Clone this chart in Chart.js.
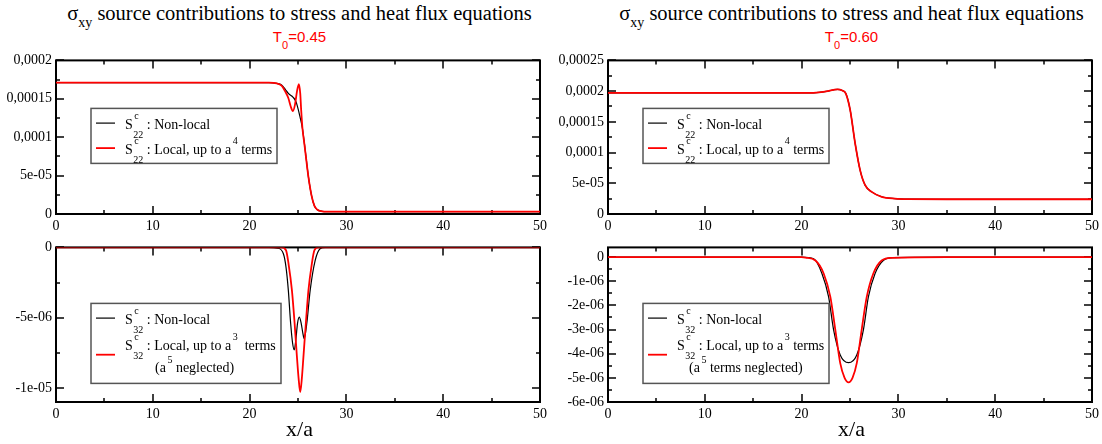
<!DOCTYPE html>
<html>
<head>
<meta charset="utf-8">
<script src="https://cdn.jsdelivr.net/npm/chart.js@4/dist/chart.umd.min.js"></script>
<style>
  html, body { margin: 0; padding: 0; background: #fff; }
  body { width: 1102px; height: 444px; position: relative; overflow: hidden; font-family: "Liberation Serif", "Times New Roman", serif; }
  canvas { position: absolute; }
  .title { position: absolute; top: 3px; width: 600px; text-align: center; font-size: 20.5px; line-height: 20px; white-space: nowrap; color: #000; }
  .title .sub { font-size: 14px; position: relative; top: 7px; }
  .subtitle { position: absolute; top: 29px; width: 200px; text-align: center; font-family: "Liberation Sans", Arial, sans-serif; font-size: 15px; line-height: 15px; color: #f00; }
  .subtitle .sub { font-size: 11px; position: relative; top: 7px; }
  .xlabel { position: absolute; top: 418px; width: 100px; text-align: center; font-size: 22px; line-height: 22px; color: #000; }
</style>
</head>
<body>
<div class="title" style="left:-0.5px">σ<span class="sub">xy</span> source contributions to stress and heat flux equations</div>
<div class="subtitle" style="left:199.5px">T<span class="sub">0</span>=0.45</div>
<div class="title" style="left:551.5px">σ<span class="sub">xy</span> source contributions to stress and heat flux equations</div>
<div class="subtitle" style="left:751.5px">T<span class="sub">0</span>=0.60</div>

<canvas id="s22a"></canvas>
<canvas id="s32a"></canvas>
<canvas id="s22b"></canvas>
<canvas id="s32b"></canvas>

<div class="xlabel" style="left:249.5px">x/a</div>
<div class="xlabel" style="left:801.5px">x/a</div>

<script>
// x axis, shared by all four panels
const xTicks = [0, 10, 20, 30, 40, 50];
const xTickLabels = ['0', '10', '20', '30', '40', '50'];

// T0 = 0.45, S22
const t045S22NonlocalX = [0, 10, 20, 22, 22.8, 23.3, 23.7, 24.0, 24.5, 24.8, 25.2, 25.45, 25.67, 25.85, 26.08, 26.4, 26.7, 27.0, 27.5, 28, 30, 40, 50];
const t045S22NonlocalY = [1.71e-4, 1.71e-4, 1.71e-4, 1.71e-4, 1.70e-4, 1.68e-4, 1.62e-4, 1.57e-4, 1.52e-4, 1.46e-4, 1.27e-4, 1.12e-4, 9.1e-5, 7.2e-5, 4.8e-5, 2.4e-5, 1.05e-5, 5.5e-6, 3.5e-6, 3.1e-6, 3e-6, 3e-6, 3e-6];
const t045S22LocalX = [0, 10, 20, 22, 22.8, 23.3, 23.7, 24.0, 24.25, 24.47, 24.7, 24.9, 25.09, 25.23, 25.33, 25.45, 25.67, 25.85, 26.08, 26.4, 26.7, 27.0, 27.5, 28, 30, 40, 50];
const t045S22LocalY = [1.71e-4, 1.71e-4, 1.71e-4, 1.71e-4, 1.70e-4, 1.67e-4, 1.59e-4, 1.51e-4, 1.40e-4, 1.34e-4, 1.43e-4, 1.60e-4, 1.69e-4, 1.57e-4, 1.35e-4, 1.13e-4, 9.0e-5, 7.1e-5, 4.8e-5, 2.4e-5, 1.05e-5, 5.5e-6, 3.5e-6, 3.1e-6, 3e-6, 3e-6, 3e-6];
const t045S22Ticks = [0, 5e-5, 1e-4, 1.5e-4, 2e-4];
const t045S22TickLabels = ['0', '5e-05', '0,0001', '0,00015', '0,0002'];

// T0 = 0.45, S32
const t045S32NonlocalX = [0, 10, 20, 22, 22.9, 23.5, 23.76, 24.0, 24.24, 24.44, 24.61, 24.78, 24.95, 25.13, 25.33, 25.5, 25.64, 25.91, 26.26, 26.77, 27.28, 27.8, 30, 40, 50];
const t045S32NonlocalY = [0, 0, 0, 0, -0.05e-6, -0.47e-6, -1.4e-6, -3.04e-6, -5.4e-6, -6.8e-6, -7.3e-6, -6.56e-6, -5.4e-6, -4.96e-6, -5.4e-6, -6.1e-6, -6.5e-6, -5.4e-6, -3.04e-6, -0.94e-6, -0.1e-6, 0, 0, 0, 0];
const t045S32LocalX = [0, 10, 20, 23.3, 23.76, 24.03, 24.37, 24.65, 24.88, 25.06, 25.23, 25.4, 25.57, 25.81, 26.08, 26.42, 26.7, 27.1, 30, 40, 50];
const t045S32LocalY = [0, 0, 0, 0, -0.2e-6, -1.2e-6, -3.04e-6, -5.4e-6, -7.7e-6, -9.3e-6, -1.03e-5, -9.3e-6, -7.7e-6, -5.4e-6, -3.04e-6, -1.2e-6, -0.2e-6, 0, 0, 0, 0];
const t045S32Ticks = [-1e-5, -5e-6, 0];
const t045S32TickLabels = ['-1e-05', '-5e-06', '0'];

// T0 = 0.60, S22 (both curves lie on top of each other)
const t060S22X = [0, 10, 20, 20.74, 21.8, 22.7, 23.3, 23.72, 24.2, 24.57, 25.02, 25.53, 26.05, 26.56, 27.24, 28.27, 29.64, 31, 35, 40, 50];
const t060S22NonlocalY = [1.97e-4, 1.97e-4, 1.97e-4, 1.97e-4, 1.98e-4, 2.0e-4, 2.02e-4, 2.03e-4, 2.01e-4, 1.96e-4, 1.69e-4, 1.15e-4, 7.1e-5, 4.7e-5, 3.6e-5, 2.8e-5, 2.5e-5, 2.42e-5, 2.4e-5, 2.4e-5, 2.4e-5];
const t060S22LocalY = [1.97e-4, 1.97e-4, 1.97e-4, 1.97e-4, 1.98e-4, 2.0e-4, 2.02e-4, 2.03e-4, 2.01e-4, 1.96e-4, 1.69e-4, 1.15e-4, 7.1e-5, 4.7e-5, 3.6e-5, 2.8e-5, 2.5e-5, 2.42e-5, 2.4e-5, 2.4e-5, 2.4e-5];
const t060S22Ticks = [0, 5e-5, 1e-4, 1.5e-4, 2e-4, 2.5e-4];
const t060S22TickLabels = ['0', '5e-05', '0,0001', '0,00015', '0,0002', '0,00025'];

// T0 = 0.60, S32
const t060S32NonlocalX = [0, 10, 20, 21.25, 22.1, 22.79, 23.3, 23.99, 24.85, 25.7, 26.39, 26.9, 27.59, 28.44, 29.47, 35, 40, 50];
const t060S32NonlocalY = [0, 0, 0, -0.07e-6, -0.68e-6, -1.65e-6, -3.0e-6, -4.05e-6, -4.37e-6, -4.05e-6, -3.0e-6, -1.65e-6, -0.68e-6, -0.14e-6, -0.02e-6, 0, 0, 0];
const t060S32LocalX = [0, 10, 20, 20.4, 21.43, 22.28, 22.97, 23.48, 23.99, 24.44, 24.85, 25.26, 25.7, 26.21, 26.73, 27.41, 28.27, 29.3, 35, 40, 50];
const t060S32LocalY = [0, 0, 0, -0.02e-6, -0.14e-6, -0.68e-6, -1.65e-6, -3.0e-6, -4.39e-6, -5.0e-6, -5.19e-6, -5.0e-6, -4.39e-6, -3.0e-6, -1.65e-6, -0.68e-6, -0.14e-6, -0.03e-6, 0, 0, 0];
const t060S32Ticks = [-6e-6, -5e-6, -4e-6, -3e-6, -2e-6, -1e-6, 0];
const t060S32TickLabels = ['-6e-06', '-5e-06', '-4e-06', '-3e-06', '-2e-06', '-1e-06', '0'];

// legend texts: plain runs, or stacked super/subscripts
const labelS22Nonlocal = [{ t: 'S' }, { sup: 'c', sub: '22' }, { t: ' : Non-local' }];
const labelS22Local = [{ t: 'S' }, { sup: 'c', sub: '22' }, { t: ' : Local, up to a' }, { sup: '4' }, { t: ' terms' }];
const labelS32Nonlocal = [{ t: 'S' }, { sup: 'c', sub: '32' }, { t: ' : Non-local' }];
const labelS32Local045 = [{ t: 'S' }, { sup: 'c', sub: '32' }, { t: ' : Local, up to a' }, { sup: '3' }, { t: '  terms' }];
const labelS32Note045 = [{ t: '(a' }, { sup: '5' }, { t: ' neglected)' }];
const labelS32Local060 = [{ t: 'S' }, { sup: 'c', sub: '32' }, { t: ' : Local, up to a' }, { sup: '3' }, { t: ' terms' }];
const labelS32Note060 = [{ t: '(a' }, { sup: '5' }, { t: ' terms neglected)' }];

const SERIF = '"Liberation Serif", "Times New Roman", serif';
const PAD_L = 56, PAD_R = 8, PAD_T = 12, PAD_B = 24;

function pts(xs, ys) {
    return xs.map((x, i) => ({ x: x, y: ys[i] }));
}

function drawRich(ctx, segs, x, y) {
    let cx = x;
    ctx.textBaseline = 'alphabetic';
    ctx.textAlign = 'left';
    ctx.fillStyle = '#000';
    segs.forEach(s => {
        if (s.t !== undefined) {
            ctx.font = '14px ' + SERIF;
            ctx.fillText(s.t, cx, y);
            cx += ctx.measureText(s.t).width;
        } else {
            ctx.font = '10px ' + SERIF;
            let w = 0;
            if (s.sup) {
                ctx.fillText(s.sup, cx + 1.5, y - 9.5);
                w = Math.max(w, ctx.measureText(s.sup).width + 1.5);
            }
            if (s.sub) {
                ctx.fillText(s.sub, cx + 0.5, y + 9);
                w = Math.max(w, ctx.measureText(s.sub).width + 0.5);
            }
            cx += w;
        }
    });
}

// closed frame with inward major/minor ticks on all four sides
const frameTicks = {
    id: 'frameTicks',
    beforeDatasetsDraw(chart) {
        const { ctx, chartArea: a, scales: { x, y } } = chart;
        const seg = (x1, y1, x2, y2) => {
            ctx.beginPath();
            ctx.moveTo(x1, y1);
            ctx.lineTo(x2, y2);
            ctx.stroke();
        };
        const minors = (vals, lo, hi) => {
            const out = [];
            const step = vals[1] - vals[0];
            for (let i = -1; i < vals.length; i++) {
                const v = vals[0] + (i + 0.5) * step;
                if (v > lo && v < hi) out.push(v);
            }
            return out;
        };
        const xv = x.ticks.map(t => t.value);
        const yv = y.ticks.map(t => t.value);

        ctx.save();
        ctx.strokeStyle = '#000';
        ctx.lineWidth = 1.5;
        xv.forEach(v => {
            const p = Math.round(x.getPixelForValue(v));
            seg(p, a.bottom, p, a.bottom - 8);
            seg(p, a.top, p, a.top + 8);
        });
        minors(xv, x.min, x.max).forEach(v => {
            const p = Math.round(x.getPixelForValue(v));
            seg(p, a.bottom, p, a.bottom - 4);
            seg(p, a.top, p, a.top + 4);
        });
        yv.forEach(v => {
            const p = Math.round(y.getPixelForValue(v));
            seg(a.left, p, a.left + 8, p);
            seg(a.right, p, a.right - 8, p);
        });
        minors(yv, y.min, y.max).forEach(v => {
            const p = Math.round(y.getPixelForValue(v));
            seg(a.left, p, a.left + 4, p);
            seg(a.right, p, a.right - 4, p);
        });
        ctx.lineWidth = 2;
        ctx.strokeRect(a.left, a.top, a.right - a.left, a.bottom - a.top);
        ctx.restore();
    }
};

// boxed legend with sub/superscript labels
const richLegend = {
    id: 'richLegend',
    afterDraw(chart, args, opts) {
        if (!opts.rows) return;
        const { ctx, chartArea: a } = chart;
        const bx = a.left + opts.left;
        const by = a.top + opts.top;
        ctx.save();
        ctx.fillStyle = '#fff';
        ctx.fillRect(bx, by, opts.width, opts.height);
        ctx.strokeStyle = '#555';
        ctx.lineWidth = 1.5;
        ctx.strokeRect(bx, by, opts.width, opts.height);
        opts.rows.forEach(row => {
            const ds = chart.data.datasets[row.dataset];
            ctx.strokeStyle = ds.borderColor;
            ctx.lineWidth = ds.borderWidth;
            ctx.beginPath();
            ctx.moveTo(bx + 5, by + row.lineY);
            ctx.lineTo(bx + 24, by + row.lineY);
            ctx.stroke();
            row.text.forEach(t => drawRich(ctx, t.segs, bx + t.x, by + t.y));
        });
        ctx.restore();
    }
};

function makePanel(id, area, yRange, yTicks, yTickLabels, nonlocal, local, legend) {
    const canvas = document.getElementById(id);
    const w = area.right - area.left + PAD_L + PAD_R;
    const h = area.bottom - area.top + PAD_T + PAD_B;
    canvas.width = w;
    canvas.height = h;
    canvas.style.left = (area.left - PAD_L) + 'px';
    canvas.style.top = (area.top - PAD_T) + 'px';
    canvas.style.width = w + 'px';
    canvas.style.height = h + 'px';

    const tickFont = { family: SERIF, size: 14 };

    return new Chart(canvas, {
        type: 'line',
        data: {
            datasets: [
                { label: 'Non-local', data: nonlocal, borderColor: '#000000', borderWidth: 1.2, order: 1 },
                { label: 'Local', data: local, borderColor: '#ff0000', borderWidth: 1.8, order: 0 },
            ].map(ds => ({ ...ds, pointRadius: 0, fill: false, cubicInterpolationMode: 'monotone' })),
        },
        options: {
            responsive: false,
            animation: false,
            devicePixelRatio: 1,
            events: [],
            layout: { padding: { top: PAD_T, right: PAD_R, left: 0, bottom: 0 } },
            plugins: {
                legend: { display: false },
                tooltip: { enabled: false },
                richLegend: legend,
            },
            scales: {
                x: {
                    type: 'linear',
                    min: 0,
                    max: 50,
                    afterBuildTicks: s => { s.ticks = xTicks.map(v => ({ value: v })); },
                    afterFit: s => { s.height = PAD_B; },
                    grid: { display: false, drawTicks: false },
                    border: { display: false },
                    ticks: {
                        font: tickFont,
                        color: '#000',
                        padding: 4,
                        maxRotation: 0,
                        autoSkip: false,
                        callback: (v, i) => xTickLabels[i],
                    },
                },
                y: {
                    type: 'linear',
                    min: yRange[0],
                    max: yRange[1],
                    afterBuildTicks: s => { s.ticks = yTicks.map(v => ({ value: v })); },
                    afterFit: s => { s.width = PAD_L; },
                    grid: { display: false, drawTicks: false },
                    border: { display: false },
                    ticks: {
                        font: tickFont,
                        color: '#000',
                        padding: 4,
                        autoSkip: false,
                        callback: (v, i) => yTickLabels[i],
                    },
                },
            },
        },
        plugins: [frameTicks, richLegend],
    });
}

const legendS22 = {
    left: 35, top: 48, width: 186, height: 55,
    rows: [
        { dataset: 0, lineY: 14.7, text: [{ x: 34, y: 20.3, segs: labelS22Nonlocal }] },
        { dataset: 1, lineY: 39.7, text: [{ x: 34, y: 45.3, segs: labelS22Local }] },
    ],
};

makePanel('s22a', { left: 56, top: 60, right: 543, bottom: 214 }, [0, 2e-4],
    t045S22Ticks, t045S22TickLabels,
    pts(t045S22NonlocalX, t045S22NonlocalY), pts(t045S22LocalX, t045S22LocalY), legendS22);

makePanel('s32a', { left: 56, top: 247, right: 543, bottom: 402 }, [-1.1e-5, 0],
    t045S32Ticks, t045S32TickLabels,
    pts(t045S32NonlocalX, t045S32NonlocalY), pts(t045S32LocalX, t045S32LocalY), {
        left: 35, top: 56, width: 190, height: 80,
        rows: [
            { dataset: 0, lineY: 14.7, text: [{ x: 34, y: 20.3, segs: labelS32Nonlocal }] },
            { dataset: 1, lineY: 51.3, text: [{ x: 34, y: 46.3, segs: labelS32Local045 }, { x: 64, y: 69, segs: labelS32Note045 }] },
        ],
    });

makePanel('s22b', { left: 608, top: 60, right: 1095, bottom: 214 }, [0, 2.5e-4],
    t060S22Ticks, t060S22TickLabels,
    pts(t060S22X, t060S22NonlocalY), pts(t060S22X, t060S22LocalY), legendS22);

makePanel('s32b', { left: 608, top: 247, right: 1095, bottom: 402 }, [-6e-6, 4e-7],
    t060S32Ticks, t060S32TickLabels,
    pts(t060S32NonlocalX, t060S32NonlocalY), pts(t060S32LocalX, t060S32LocalY), {
        left: 35, top: 56, width: 186, height: 80,
        rows: [
            { dataset: 0, lineY: 14.7, text: [{ x: 34, y: 20.3, segs: labelS32Nonlocal }] },
            { dataset: 1, lineY: 51.3, text: [{ x: 34, y: 46.3, segs: labelS32Local060 }, { x: 46, y: 69, segs: labelS32Note060 }] },
        ],
    });
</script>
</body>
</html>
